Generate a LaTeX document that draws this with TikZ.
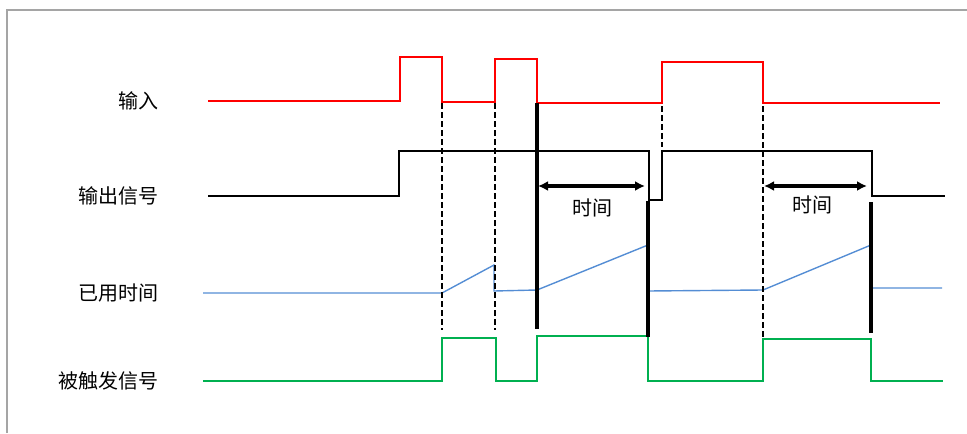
\documentclass[tikz,border=0pt]{standalone}
\usepackage{fontspec}
\newfontfamily\cjk{Noto Sans CJK SC}
\usepackage{tikz}
\usetikzlibrary{arrows.meta}

\definecolor{elapsedblue}{RGB}{84,141,212}
\definecolor{triggreen}{RGB}{0,176,80}
\definecolor{framegray}{RGB}{165,165,165}

\begin{document}
\begin{tikzpicture}[
    x=0.5pt, y=-0.5pt,
    sigtext/.style={font=\cjk\fontsize{10}{12}\selectfont, inner sep=0pt},
    insig/.style={red, line width=0.75pt},
    outsig/.style={black, line width=0.75pt},
    timesig/.style={elapsedblue, line width=0.7pt},
    trigsig/.style={triggreen, line width=0.75pt},
    guide/.style={black, line width=0.6pt, dash pattern=on 3pt off 1.5pt},
    resetline/.style={black, line width=1.8pt},
    span/.style={<->, >={Latex[length=5pt,width=5pt]}, line width=1.7pt}
]
\useasboundingbox (0,0) rectangle (967,433);

% Frame
\draw[framegray, line width=1pt] (7,433) -- (7,10) -- (967,10);

% Signal names
\node[sigtext, anchor=east] (inname) at (159,101) {输入};
\node[sigtext, anchor=east] (outname) at (159,196) {输出信号};
\node[sigtext, anchor=east] (elapsedname) at (159,293) {已用时间};
\node[sigtext, anchor=east] (trigname) at (159,381) {被触发信号};

% Input
\draw[insig] (208,101) -- (400,101) -- (400,57) -- (442,57) -- (442,102)
    -- (495,102) -- (495,59) -- (537,59) -- (537,103) -- (662,103)
    -- (662,62) -- (763,62) -- (763,103) -- (940,103);

% Output signal
\draw[outsig] (208,196) -- (399,196) -- (399,151) -- (649,151) -- (649,200)
    -- (662,200) -- (662,151) -- (872,151) -- (872,196) -- (945,196);

% Elapsed time
\draw[timesig] (203,293) -- (442,293) -- (494,265) -- (494,291) -- (537,290)
    -- (648,245) -- (648,291) -- (763,290) -- (871,245) -- (871,288) -- (942,288);

% Triggered signal
\draw[trigsig] (203,381) -- (442,381) -- (442,338) -- (496,338) -- (496,381)
    -- (537,381) -- (537,336) -- (648,336) -- (648,381) -- (763,381)
    -- (763,339) -- (871,339) -- (871,381) -- (943,381);

% Dashed guides
\draw[guide] (442,103) -- (442,330);
\draw[guide] (495,103) -- (495,330);
\draw[guide] (763,106) -- (763,337);
\draw[guide, line width=1.2pt] (662,106) -- (662,147);

% Reset marks
\draw[resetline] (537,103) -- (537,329);
\draw[resetline] (648,201) -- (648,337);
\draw[resetline] (871,202) -- (871,333);

% Timing spans
\coordinate (spanAstart) at (538,186);
\coordinate (spanAend) at (645,186);
\coordinate (spanBstart) at (764,186);
\coordinate (spanBend) at (867,186);
\draw[span] (spanAstart) -- (spanAend);
\draw[span] (spanBstart) -- (spanBend);
\node[sigtext] (spanAtext) at (592,208) {时间};
\node[sigtext] (spanBtext) at (812,205) {时间};

\end{tikzpicture}
\end{document}
